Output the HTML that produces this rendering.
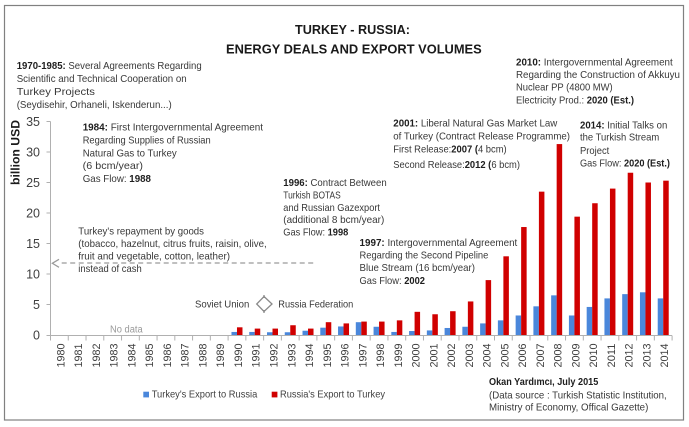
<!DOCTYPE html>
<html><head><meta charset="utf-8"><style>
html,body{margin:0;padding:0;background:#fff;}
svg{display:block;}
text{font-family:"Liberation Sans",sans-serif;}
.a{font-size:10.3px;fill:#383838;}
.b{font-weight:bold;fill:#1e1e1e;}
.t{font-size:12.5px;font-weight:bold;fill:#1a1a1a;}
.xl{font-size:11px;fill:#404040;}
.yl{font-size:12.5px;fill:#404040;}
.lg{font-size:10.3px;fill:#404040;}
</style></head><body>
<svg width="689" height="427" viewBox="0 0 689 427" xmlns="http://www.w3.org/2000/svg">
<rect x="0" y="0" width="689" height="427" fill="#fff"/>
<rect x="4.5" y="5.5" width="679" height="414.5" fill="none" stroke="#808080" stroke-width="1.2"/>

<!-- Title -->
<text class="t" x="295" y="34" textLength="115" lengthAdjust="spacingAndGlyphs">TURKEY - RUSSIA:</text>
<text class="t" x="226" y="53.3" textLength="255.7" lengthAdjust="spacingAndGlyphs">ENERGY DEALS AND EXPORT VOLUMES</text>

<!-- Block A -->
<text class="a" x="16.7" y="69" textLength="185" lengthAdjust="spacingAndGlyphs"><tspan class="b">1970-1985:</tspan> Several Agreements Regarding</text>
<text class="a" x="16.7" y="82" textLength="170" lengthAdjust="spacingAndGlyphs">Scientific and Technical Cooperation on</text>
<text class="a" x="16.7" y="95" textLength="78.3" lengthAdjust="spacingAndGlyphs">Turkey Projects</text>
<text class="a" x="16.7" y="108" textLength="155" lengthAdjust="spacingAndGlyphs">(Seydisehir, Orhaneli, Iskenderun...)</text>

<!-- Block B -->
<text class="a" x="82.7" y="130.5" textLength="180.3" lengthAdjust="spacingAndGlyphs"><tspan class="b">1984:</tspan> First Intergovernmental Agreement</text>
<text class="a" x="82.7" y="143.5" textLength="128" lengthAdjust="spacingAndGlyphs">Regarding Supplies of Russian</text>
<text class="a" x="82.7" y="156.5" textLength="94" lengthAdjust="spacingAndGlyphs">Natural Gas to Turkey</text>
<text class="a" x="82.7" y="169" textLength="60.3" lengthAdjust="spacingAndGlyphs">(6 bcm/year)</text>
<text class="a" x="82.7" y="182" textLength="68.3" lengthAdjust="spacingAndGlyphs">Gas Flow: <tspan class="b">1988</tspan></text>

<!-- Block C -->
<text class="a" x="78.3" y="234.3" textLength="125.7" lengthAdjust="spacingAndGlyphs">Turkey's repayment by goods</text>
<text class="a" x="78.3" y="247" textLength="188.4" lengthAdjust="spacingAndGlyphs">(tobacco, hazelnut, citrus fruits, raisin, olive,</text>
<text class="a" x="78.3" y="259.5" textLength="151.7" lengthAdjust="spacingAndGlyphs">fruit and vegetable, cotton, leather)</text>
<text class="a" x="78.3" y="272" textLength="63.4" lengthAdjust="spacingAndGlyphs">instead of cash</text>

<!-- Dashed arrow -->
<line x1="61.7" y1="263" x2="315" y2="263" stroke="#9a9a9a" stroke-width="1.2" stroke-dasharray="5 3.5"/>
<polyline points="59,259.3 52.3,263.3 59,267.3" fill="none" stroke="#9a9a9a" stroke-width="1.2"/>

<!-- Block D -->
<text class="a" x="283.3" y="186" textLength="103.4" lengthAdjust="spacingAndGlyphs"><tspan class="b">1996:</tspan> Contract Between</text>
<text class="a" x="283.3" y="198.5" textLength="57.4" lengthAdjust="spacingAndGlyphs">Turkish BOTAS</text>
<text class="a" x="283.3" y="211" textLength="96.7" lengthAdjust="spacingAndGlyphs">and Russian Gazexport</text>
<text class="a" x="283.3" y="223" textLength="101" lengthAdjust="spacingAndGlyphs">(additional 8 bcm/year)</text>
<text class="a" x="283.3" y="235.5" textLength="65" lengthAdjust="spacingAndGlyphs">Gas Flow: <tspan class="b">1998</tspan></text>

<!-- Block E -->
<text class="a" x="359.5" y="246" textLength="157.8" lengthAdjust="spacingAndGlyphs"><tspan class="b">1997:</tspan> Intergovernmental Agreement</text>
<text class="a" x="359.5" y="258.5" textLength="128.8" lengthAdjust="spacingAndGlyphs">Regarding the Second Pipeline</text>
<text class="a" x="359.5" y="271" textLength="115.5" lengthAdjust="spacingAndGlyphs">Blue Stream (16 bcm/year)</text>
<text class="a" x="359.5" y="284" textLength="65.5" lengthAdjust="spacingAndGlyphs">Gas Flow: <tspan class="b">2002</tspan></text>

<!-- Block F -->
<text class="a" x="393.3" y="126.7" textLength="164" lengthAdjust="spacingAndGlyphs"><tspan class="b">2001:</tspan>  Liberal Natural Gas Market Law</text>
<text class="a" x="393.3" y="139.3" textLength="176.7" lengthAdjust="spacingAndGlyphs">of  Turkey (Contract Release Programme)</text>
<text class="a" x="393.3" y="152.7" textLength="113.4" lengthAdjust="spacingAndGlyphs">First Release:<tspan class="b">2007 (</tspan>4 bcm)</text>
<text class="a" x="393.3" y="168" textLength="126.7" lengthAdjust="spacingAndGlyphs">Second Release:<tspan class="b">2012 (</tspan>6 bcm)</text>

<!-- Block G -->
<text class="a" x="516" y="65.3" textLength="156.7" lengthAdjust="spacingAndGlyphs"><tspan class="b">2010:</tspan> Intergovernmental Agreement</text>
<text class="a" x="516" y="78" textLength="164" lengthAdjust="spacingAndGlyphs">Regarding the Construction of  Akkuyu</text>
<text class="a" x="516" y="90.7" textLength="96.7" lengthAdjust="spacingAndGlyphs">Nuclear PP (4800 MW)</text>
<text class="a" x="516" y="103.3" textLength="118" lengthAdjust="spacingAndGlyphs">Electricity Prod.: <tspan class="b">2020 (Est.)</tspan></text>

<!-- Block H -->
<text class="a" x="580" y="128.3" textLength="87.3" lengthAdjust="spacingAndGlyphs"><tspan class="b">2014:</tspan> Initial Talks on</text>
<text class="a" x="580" y="140.7" textLength="79.3" lengthAdjust="spacingAndGlyphs">the Turkish Stream</text>
<text class="a" x="580" y="154" textLength="29.3" lengthAdjust="spacingAndGlyphs">Project</text>
<text class="a" x="580" y="166.7" textLength="90" lengthAdjust="spacingAndGlyphs">Gas Flow: <tspan class="b">2020 (Est.)</tspan></text>

<!-- Soviet / Russia -->
<text class="a" x="195" y="307.5" textLength="54.3" lengthAdjust="spacingAndGlyphs">Soviet Union</text>
<text class="a" x="278.3" y="307.5" textLength="75" lengthAdjust="spacingAndGlyphs">Russia Federation</text>
<polygon points="264,296.5 272,304 264,311.5 256.7,304" fill="none" stroke="#8a8a8a" stroke-width="1.3"/>
<line x1="264" y1="295" x2="264" y2="298" stroke="#8a8a8a" stroke-width="1.3"/>
<line x1="264" y1="310" x2="264" y2="313" stroke="#8a8a8a" stroke-width="1.3"/>
<text x="110" y="332.7" style="font-size:10px;fill:#9a9a9a" textLength="32.7" lengthAdjust="spacingAndGlyphs">No data</text>

<!-- Y axis label -->
<text transform="translate(19.5,152.5) rotate(-90)" text-anchor="middle" style="font-size:12px;font-weight:bold;fill:#1a1a1a" textLength="65" lengthAdjust="spacingAndGlyphs">billion USD</text>

<!-- Axes -->
<line x1="50.5" y1="121.5" x2="50.5" y2="335.5" stroke="#b0b0b0" stroke-width="1"/>
<line x1="50.5" y1="335.5" x2="672" y2="335.5" stroke="#b0b0b0" stroke-width="1"/>
<g stroke="#b0b0b0" stroke-width="1">
<line x1="46.5" y1="121.5" x2="50.5" y2="121.5"/>
<line x1="46.5" y1="152" x2="50.5" y2="152"/>
<line x1="46.5" y1="182.5" x2="50.5" y2="182.5"/>
<line x1="46.5" y1="213" x2="50.5" y2="213"/>
<line x1="46.5" y1="243.5" x2="50.5" y2="243.5"/>
<line x1="46.5" y1="274" x2="50.5" y2="274"/>
<line x1="46.5" y1="304.5" x2="50.5" y2="304.5"/>
<line x1="46.5" y1="335.5" x2="50.5" y2="335.5"/>
</g>
<g class="yl" text-anchor="end">
<text x="40" y="125.9">35</text>
<text x="40" y="156.4">30</text>
<text x="40" y="186.9">25</text>
<text x="40" y="217.4">20</text>
<text x="40" y="247.9">15</text>
<text x="40" y="278.4">10</text>
<text x="40" y="308.9">5</text>
<text x="40" y="339.7">0</text>
</g>

<!-- X ticks -->
<g stroke="#b0b0b0" stroke-width="1">
<line x1="50.5" y1="335.5" x2="50.5" y2="340.5"/><line x1="68.26" y1="335.5" x2="68.26" y2="340.5"/><line x1="86.02" y1="335.5" x2="86.02" y2="340.5"/><line x1="103.78" y1="335.5" x2="103.78" y2="340.5"/><line x1="121.54" y1="335.5" x2="121.54" y2="340.5"/><line x1="139.3" y1="335.5" x2="139.3" y2="340.5"/><line x1="157.06" y1="335.5" x2="157.06" y2="340.5"/><line x1="174.82" y1="335.5" x2="174.82" y2="340.5"/><line x1="192.58" y1="335.5" x2="192.58" y2="340.5"/><line x1="210.34" y1="335.5" x2="210.34" y2="340.5"/><line x1="228.1" y1="335.5" x2="228.1" y2="340.5"/><line x1="245.86" y1="335.5" x2="245.86" y2="340.5"/><line x1="263.62" y1="335.5" x2="263.62" y2="340.5"/><line x1="281.38" y1="335.5" x2="281.38" y2="340.5"/><line x1="299.14" y1="335.5" x2="299.14" y2="340.5"/><line x1="316.9" y1="335.5" x2="316.9" y2="340.5"/><line x1="334.66" y1="335.5" x2="334.66" y2="340.5"/><line x1="352.42" y1="335.5" x2="352.42" y2="340.5"/><line x1="370.18" y1="335.5" x2="370.18" y2="340.5"/><line x1="387.94" y1="335.5" x2="387.94" y2="340.5"/><line x1="405.7" y1="335.5" x2="405.7" y2="340.5"/><line x1="423.46" y1="335.5" x2="423.46" y2="340.5"/><line x1="441.22" y1="335.5" x2="441.22" y2="340.5"/><line x1="458.98" y1="335.5" x2="458.98" y2="340.5"/><line x1="476.74" y1="335.5" x2="476.74" y2="340.5"/><line x1="494.5" y1="335.5" x2="494.5" y2="340.5"/><line x1="512.26" y1="335.5" x2="512.26" y2="340.5"/><line x1="530.02" y1="335.5" x2="530.02" y2="340.5"/><line x1="547.78" y1="335.5" x2="547.78" y2="340.5"/><line x1="565.54" y1="335.5" x2="565.54" y2="340.5"/><line x1="583.3" y1="335.5" x2="583.3" y2="340.5"/><line x1="601.06" y1="335.5" x2="601.06" y2="340.5"/><line x1="618.82" y1="335.5" x2="618.82" y2="340.5"/><line x1="636.58" y1="335.5" x2="636.58" y2="340.5"/><line x1="654.34" y1="335.5" x2="654.34" y2="340.5"/><line x1="672.1" y1="335.5" x2="672.1" y2="340.5"/>
</g>

<!-- X labels -->
<g class="xl" text-anchor="end">
<text transform="translate(64.38,343.5) rotate(-90)" textLength="24" lengthAdjust="spacingAndGlyphs">1980</text>
<text transform="translate(82.14,343.5) rotate(-90)" textLength="24" lengthAdjust="spacingAndGlyphs">1981</text>
<text transform="translate(99.9,343.5) rotate(-90)" textLength="24" lengthAdjust="spacingAndGlyphs">1982</text>
<text transform="translate(117.66,343.5) rotate(-90)" textLength="24" lengthAdjust="spacingAndGlyphs">1983</text>
<text transform="translate(135.42,343.5) rotate(-90)" textLength="24" lengthAdjust="spacingAndGlyphs">1984</text>
<text transform="translate(153.18,343.5) rotate(-90)" textLength="24" lengthAdjust="spacingAndGlyphs">1985</text>
<text transform="translate(170.94,343.5) rotate(-90)" textLength="24" lengthAdjust="spacingAndGlyphs">1986</text>
<text transform="translate(188.7,343.5) rotate(-90)" textLength="24" lengthAdjust="spacingAndGlyphs">1987</text>
<text transform="translate(206.46,343.5) rotate(-90)" textLength="24" lengthAdjust="spacingAndGlyphs">1988</text>
<text transform="translate(224.22,343.5) rotate(-90)" textLength="24" lengthAdjust="spacingAndGlyphs">1989</text>
<text transform="translate(241.98,343.5) rotate(-90)" textLength="24" lengthAdjust="spacingAndGlyphs">1990</text>
<text transform="translate(259.74,343.5) rotate(-90)" textLength="24" lengthAdjust="spacingAndGlyphs">1991</text>
<text transform="translate(277.5,343.5) rotate(-90)" textLength="24" lengthAdjust="spacingAndGlyphs">1992</text>
<text transform="translate(295.26,343.5) rotate(-90)" textLength="24" lengthAdjust="spacingAndGlyphs">1993</text>
<text transform="translate(313.02,343.5) rotate(-90)" textLength="24" lengthAdjust="spacingAndGlyphs">1994</text>
<text transform="translate(330.78,343.5) rotate(-90)" textLength="24" lengthAdjust="spacingAndGlyphs">1995</text>
<text transform="translate(348.54,343.5) rotate(-90)" textLength="24" lengthAdjust="spacingAndGlyphs">1996</text>
<text transform="translate(366.3,343.5) rotate(-90)" textLength="24" lengthAdjust="spacingAndGlyphs">1997</text>
<text transform="translate(384.06,343.5) rotate(-90)" textLength="24" lengthAdjust="spacingAndGlyphs">1998</text>
<text transform="translate(401.82,343.5) rotate(-90)" textLength="24" lengthAdjust="spacingAndGlyphs">1999</text>
<text transform="translate(419.58,343.5) rotate(-90)" textLength="24" lengthAdjust="spacingAndGlyphs">2000</text>
<text transform="translate(437.34,343.5) rotate(-90)" textLength="24" lengthAdjust="spacingAndGlyphs">2001</text>
<text transform="translate(455.1,343.5) rotate(-90)" textLength="24" lengthAdjust="spacingAndGlyphs">2002</text>
<text transform="translate(472.86,343.5) rotate(-90)" textLength="24" lengthAdjust="spacingAndGlyphs">2003</text>
<text transform="translate(490.62,343.5) rotate(-90)" textLength="24" lengthAdjust="spacingAndGlyphs">2004</text>
<text transform="translate(508.38,343.5) rotate(-90)" textLength="24" lengthAdjust="spacingAndGlyphs">2005</text>
<text transform="translate(526.14,343.5) rotate(-90)" textLength="24" lengthAdjust="spacingAndGlyphs">2006</text>
<text transform="translate(543.9,343.5) rotate(-90)" textLength="24" lengthAdjust="spacingAndGlyphs">2007</text>
<text transform="translate(561.66,343.5) rotate(-90)" textLength="24" lengthAdjust="spacingAndGlyphs">2008</text>
<text transform="translate(579.42,343.5) rotate(-90)" textLength="24" lengthAdjust="spacingAndGlyphs">2009</text>
<text transform="translate(597.18,343.5) rotate(-90)" textLength="24" lengthAdjust="spacingAndGlyphs">2010</text>
<text transform="translate(614.94,343.5) rotate(-90)" textLength="24" lengthAdjust="spacingAndGlyphs">2011</text>
<text transform="translate(632.7,343.5) rotate(-90)" textLength="24" lengthAdjust="spacingAndGlyphs">2012</text>
<text transform="translate(650.46,343.5) rotate(-90)" textLength="24" lengthAdjust="spacingAndGlyphs">2013</text>
<text transform="translate(668.22,343.5) rotate(-90)" textLength="24" lengthAdjust="spacingAndGlyphs">2014</text>
</g>

<!-- Blue bars -->
<g fill="#4a87db">
<rect x="231.48" y="331.95" width="5.5" height="3.05"/>
<rect x="249.24" y="331.95" width="5.5" height="3.05"/>
<rect x="267" y="332.25" width="5.5" height="2.75"/>
<rect x="284.76" y="332.25" width="5.5" height="2.75"/>
<rect x="302.52" y="330.73" width="5.5" height="4.27"/>
<rect x="320.28" y="327.68" width="5.5" height="7.32"/>
<rect x="338.04" y="326.46" width="5.5" height="8.54"/>
<rect x="355.8" y="322.19" width="5.5" height="12.81"/>
<rect x="373.56" y="326.76" width="5.5" height="8.24"/>
<rect x="391.32" y="331.95" width="5.5" height="3.05"/>
<rect x="409.08" y="331.03" width="5.5" height="3.97"/>
<rect x="426.84" y="330.42" width="5.5" height="4.58"/>
<rect x="444.6" y="327.98" width="5.5" height="7.02"/>
<rect x="462.36" y="326.76" width="5.5" height="8.24"/>
<rect x="480.12" y="323.41" width="5.5" height="11.59"/>
<rect x="497.88" y="320.36" width="5.5" height="14.64"/>
<rect x="515.64" y="315.48" width="5.5" height="19.52"/>
<rect x="533.4" y="306.33" width="5.5" height="28.67"/>
<rect x="551.16" y="295.35" width="5.5" height="39.65"/>
<rect x="568.92" y="315.48" width="5.5" height="19.52"/>
<rect x="586.68" y="306.94" width="5.5" height="28.06"/>
<rect x="604.44" y="298.4" width="5.5" height="36.6"/>
<rect x="622.2" y="294.13" width="5.5" height="40.87"/>
<rect x="639.96" y="292.3" width="5.5" height="42.7"/>
<rect x="657.72" y="298.4" width="5.5" height="36.6"/>
</g>

<!-- Red bars -->
<g fill="#d00000">
<rect x="236.98" y="327.31" width="5.5" height="7.69"/>
<rect x="254.74" y="328.59" width="5.5" height="6.41"/>
<rect x="272.5" y="328.59" width="5.5" height="6.41"/>
<rect x="290.26" y="325.24" width="5.5" height="9.76"/>
<rect x="308.02" y="328.59" width="5.5" height="6.41"/>
<rect x="325.78" y="322.19" width="5.5" height="12.81"/>
<rect x="343.54" y="323.41" width="5.5" height="11.59"/>
<rect x="361.3" y="321.58" width="5.5" height="13.42"/>
<rect x="379.06" y="321.58" width="5.5" height="13.42"/>
<rect x="396.82" y="320.36" width="5.5" height="14.64"/>
<rect x="414.58" y="311.82" width="5.5" height="23.18"/>
<rect x="432.34" y="314.26" width="5.5" height="20.74"/>
<rect x="450.1" y="311.21" width="5.5" height="23.79"/>
<rect x="467.86" y="301.45" width="5.5" height="33.55"/>
<rect x="485.62" y="280.1" width="5.5" height="54.9"/>
<rect x="503.38" y="256.31" width="5.5" height="78.69"/>
<rect x="521.14" y="227.03" width="5.5" height="107.97"/>
<rect x="538.9" y="191.65" width="5.5" height="143.35"/>
<rect x="556.66" y="144.07" width="5.5" height="190.93"/>
<rect x="574.42" y="216.66" width="5.5" height="118.34"/>
<rect x="592.18" y="203.24" width="5.5" height="131.76"/>
<rect x="609.94" y="188.6" width="5.5" height="146.4"/>
<rect x="627.7" y="172.74" width="5.5" height="162.26"/>
<rect x="645.46" y="182.5" width="5.5" height="152.5"/>
<rect x="663.22" y="180.67" width="5.5" height="154.33"/>
</g>

<!-- Legend -->
<rect x="143.3" y="391.7" width="5.7" height="5.7" fill="#4a87db"/>
<text class="lg" x="151.7" y="397.5" textLength="105.6" lengthAdjust="spacingAndGlyphs">Turkey's Export to Russia</text>
<rect x="271.7" y="391.7" width="5.7" height="5.7" fill="#d00000"/>
<text class="lg" x="280" y="397.5" textLength="105" lengthAdjust="spacingAndGlyphs">Russia's Export to Turkey</text>

<!-- Credit -->
<text class="a" x="489" y="385" textLength="109.3" lengthAdjust="spacingAndGlyphs"><tspan class="b">Okan Yardımcı, July 2015</tspan></text>
<text class="a" x="489" y="398.3" textLength="177.7" lengthAdjust="spacingAndGlyphs">(Data source : Turkish Statistic Institution,</text>
<text class="a" x="489" y="410.7" textLength="159.3" lengthAdjust="spacingAndGlyphs">Ministry of Economy, Offical Gazette)</text>
</svg>
</body></html>
